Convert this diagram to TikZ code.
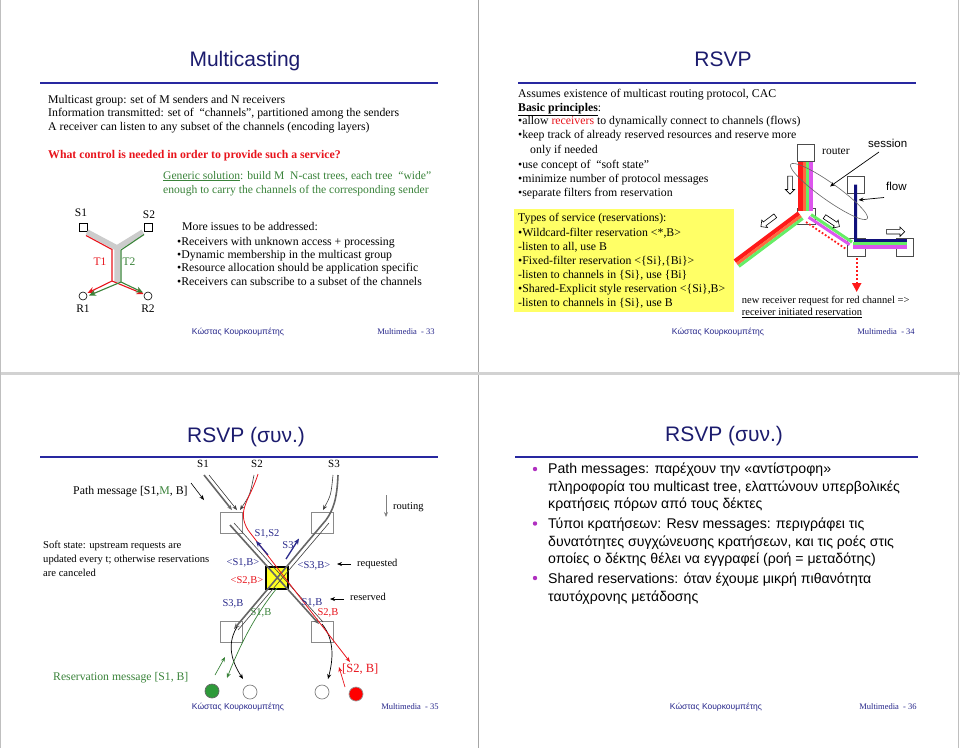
\documentclass[tikz,border=0pt]{standalone}
\usepackage{fontspec}
\setmainfont{Liberation Serif}
\newfontfamily\arial{Liberation Sans}
\usetikzlibrary{arrows.meta,shapes.arrows}
\definecolor{titlenavy}{HTML}{1C1C6E}
\definecolor{rulecol}{HTML}{2828A0}
\definecolor{rd}{HTML}{E8141C}
\definecolor{gr}{HTML}{3A833A}
\definecolor{foot}{HTML}{25258A}
\definecolor{lbl}{HTML}{2B2B8C}
\definecolor{ylw}{HTML}{FFFF66}
\definecolor{ylwbox}{HTML}{FFFF22}
\definecolor{mag}{HTML}{B030C0}
\definecolor{sred}{HTML}{FF1A1A}
\definecolor{sorange}{HTML}{FF6A40}
\definecolor{sgreen}{HTML}{66EE66}
\definecolor{smag}{HTML}{DD55EE}
\definecolor{snavy}{HTML}{10107A}
\definecolor{boxgrey}{HTML}{8A8A8A}
\definecolor{cgreen}{HTML}{2E9A3A}
\tikzset{
  title/.style={anchor=base, inner sep=0pt, text=titlenavy, font=\arial\fontsize{21}{24}\selectfont},
  rulestyle/.style={draw=rulecol, line width=2.5},
  txt/.style={anchor=base west, inner sep=0pt, font=\fontsize{11.8}{13}\selectfont},
  smalltxt/.style={anchor=base west, inner sep=0pt, font=\fontsize{10.5}{12}\selectfont},
  lab/.style={anchor=base, inner sep=0pt, font=\fontsize{10.5}{12}\selectfont},
  grk/.style={anchor=base west, inner sep=0pt, font=\arial\fontsize{14.1}{16}\selectfont},
  footname/.style={anchor=base, inner sep=0pt, text=foot, font=\arial\fontsize{8.5}{10}\selectfont},
  footnum/.style={anchor=base, inner sep=0pt, text=foot, font=\fontsize{8.5}{10}\selectfont},
  sq/.style={draw, fill=white, minimum size=8, inner sep=0pt, line width=0.6},
  circ/.style={circle, draw, fill=white, minimum size=8, inner sep=0pt, line width=0.6},
  rbox/.style={draw=boxgrey, minimum width=22, minimum height=21, inner sep=0pt, line width=0.8},
  rcirc/.style={circle, draw=gray, minimum size=14, inner sep=0pt, line width=0.7},
  hollow/.style={single arrow, draw, fill=white, inner sep=2pt, minimum height=18, single arrow head extend=2.4pt, line width=0.6},
  tip/.style={-{Stealth[length=5,width=4]}},
  greyline/.style={draw=gray!80!black, line width=1.6},
  darkline/.style={draw=black!75, line width=0.6},
}
\begin{document}
\begin{tikzpicture}[x=1pt,y=-1pt]
\useasboundingbox (0,0) rectangle (960,748);
\fill[white] (0,0) rectangle (960,748);
% slide frames
\draw[gray!70, line width=0.8] (478,0) -- (478,748);
\draw[gray!35, line width=3] (0,373) -- (960,373);
\draw[gray!50, line width=0.6] (0.5,0) -- (0.5,748);
\draw[gray!50, line width=0.6] (958.5,0) -- (958.5,748);

%%%%%%%%%%%%%%%% Slide 1
\node[title] (ti1) at (245,66) {Multicasting};
\draw[rulestyle] (40,83) -- (438,83);
\node[txt] (a1) at (48,103) {Multicast group: set of M senders and N receivers};
\node[txt] (a2) at (48,116.5) {Information transmitted: set of \ “channels”, partitioned among the senders};
\node[txt] (a3) at (48,130) {A receiver can listen to any subset of the channels (encoding layers)};
\node[txt, text=rd, font=\bfseries\fontsize{11.8}{13}\selectfont] (a4) at (48,158.5) {What control is needed in order to provide such a service?};
\node[txt, text=gr, font=\fontsize{11.6}{13}\selectfont] (a5) at (163,179) {\underline{Generic solution}: build M \ N-cast trees, each tree \ “wide”};
\node[txt, text=gr, font=\fontsize{11.6}{13}\selectfont] (a6) at (163,193.5) {enough to carry the channels of the corresponding sender};

\node[txt] (b1) at (182,230.6) {More issues to be addressed:};
\node[txt] (b2) at (177,245) {•Receivers with unknown access + processing};
\node[txt] (b3) at (177,258.3) {•Dynamic membership in the multicast group};
\node[txt] (b4) at (177,271.6) {•Resource allocation should be application specific};
\node[txt] (b5) at (177,285.6) {•Receivers can subscribe to a subset of the channels};

% tree diagram
\node[lab, font=\fontsize{11.5}{13}\selectfont] (ls1) at (81,216) {S1};
\node[lab, font=\fontsize{11.5}{13}\selectfont] (ls2) at (149,218) {S2};
\node[sq] (s1b) at (83,227) {};
\node[sq] (s2b) at (148,227) {};
\node[circ] (r1) at (83,296) {};
\node[circ] (r2) at (148,296) {};
\node[lab, font=\fontsize{11.5}{13}\selectfont] (lr1) at (83,312) {R1};
\node[lab, font=\fontsize{11.5}{13}\selectfont] (lr2) at (148,312) {R2};
\coordinate (yj) at (117,248);
\coordinate (yb) at (117,282);
\draw[gray!40, line width=5.5] (87,232) -- (yj) -- (yb);
\draw[gray!40, line width=5.5] (143,232) -- (yj);
\draw[rd, line width=1.1, -{Stealth[length=7,width=6]}] (86,235.5) -- (112,249.5) -- (112,281) -- (87.5,293);
\draw[rd, line width=1.1, -{Stealth[length=7,width=6]}] (112,281) -- (143.5,294);
\draw[gr, line width=1.1, -{Stealth[length=7,width=6]}] (144,234.5) -- (121,250) -- (121,282) -- (143,292.5);
\draw[gr, line width=1.1, -{Stealth[length=7,width=6]}] (121,282) -- (89,295.5);
\node[lab, text=rd, font=\fontsize{11.5}{13}\selectfont] (lt1) at (100,265.5) {T1};
\node[lab, text=gr, font=\fontsize{11.5}{13}\selectfont] (lt2) at (129,265.5) {T2};

\node[footname] (f1) at (238,334.5) {Κώστας Κουρκουμπέτης};
\node[footnum] (g1) at (406,334.5) {Multimedia \ - 33};

%%%%%%%%%%%%%%%% Slide 2
\node[title] (ti2) at (723,66) {RSVP};
\draw[rulestyle] (518,83) -- (916,83);
\node[txt] (c1) at (518,97.6) {Assumes existence of multicast routing protocol, CAC};
\node[txt] (c2) at (518,111.3) {\textbf{\underline{Basic principles}}:};
\node[txt] (c3) at (518,124.8) {•allow \textcolor{rd}{receivers} to dynamically connect to channels (flows)};
\node[txt] (c4) at (518,138.8) {•keep track of already reserved resources and reserve more};
\node[txt] (c5) at (530,153.3) {only if needed};
\node[txt] (c6) at (518,168) {•use concept of \ “soft state”};
\node[txt] (c7) at (518,182) {•minimize number of protocol messages};
\node[txt] (c8) at (518,196.5) {•separate filters from reservation};

\node[fill=ylw, minimum width=220, minimum height=103.5, inner sep=0pt, anchor=north west] (ybox) at (513.3,208.3) {};
\node[txt] (d1) at (518,221.6) {Types of service (reservations):};
\node[txt] (d2) at (518,236) {•Wildcard-filter reservation <*,B>};
\node[txt] (d3) at (518,250) {-listen to all, use B};
\node[txt] (d4) at (518,264) {•Fixed-filter reservation <\{Si\},\{Bi\}>};
\node[txt] (d5) at (518,278.3) {-listen to channels in \{Si\}, use \{Bi\}};
\node[txt] (d6) at (518,292.6) {•Shared-Explicit style reservation <\{Si\},B>};
\node[txt] (d7) at (518,306) {-listen to channels in \{Si\}, use B};

% RSVP figure
\node[draw=black!70, minimum width=18, minimum height=16, inner sep=0pt, line width=0.6] (jbox) at (806,216.5) {};
\fill[sred] (797.5,161) rectangle (802.5,211);
\fill[sorange] (802.5,161) rectangle (805.5,211);
\fill[sgreen] (805.5,161) rectangle (808.5,211);
\fill[smag] (808.5,161) rectangle (812.5,211);
\node[draw=black!70, fill=white, minimum width=17, minimum height=17, inner sep=0pt, line width=0.6] (router) at (805.5,152.5) {};
\node[draw=black!70, fill=white, minimum width=17, minimum height=17, inner sep=0pt, line width=0.6] (fbox) at (855.5,184.5) {};
\node[draw=black!70, fill=white, minimum width=18, minimum height=18, inner sep=0pt, line width=0.6] (lrbox) at (856,247.5) {};
\node[draw=black!70, fill=white, minimum width=17, minimum height=18, inner sep=0pt, line width=0.6] (frbox) at (905,247.5) {};
% left bundle
\draw[sred, line width=4.2] (798.9,213.2) -- (734.9,261.2);
\draw[sorange, line width=3] (801,216) -- (737,264);
\draw[sgreen, line width=3] (802.8,218.4) -- (738.8,266.4);
% right bundle
\draw[sgreen, line width=3] (811,214.6) -- (852,242);
\draw[smag, line width=3] (808.6,217.2) -- (849.6,244.6);
\draw[sred, line width=1.8, dotted] (806,222) -- (846,249);
% horizontal bundle + flow
\draw[snavy, line width=3] (fbox.center) -- (855.7,242);
\draw[snavy, line width=3] (854.2,240.8) -- (906.7,240.8);
\draw[sgreen, line width=3] (853,243.8) -- (906.7,243.8);
\draw[smag, line width=3.2] (853,246.9) -- (906.7,246.9);
\draw[sred, line width=2, dotted, -{Triangle[length=9,width=9]}] (856.7,258) -- (856.7,292);
% session ellipse
\draw[gray!80!black, line width=0.6, rotate around={-35.4:(829,191.5)}] (829,191.5) ellipse (47 and 8.5);
\node[hollow, rotate=-90] (ha1) at (790,184) {};
\node[hollow, rotate=217] (ha2) at (769,220.5) {};
\node[hollow, rotate=-33.7] (ha3) at (831,221) {};
\node[hollow] (ha4) at (894.5,231.7) {};
\node[anchor=base west, inner sep=0pt, font=\fontsize{11.5}{13}\selectfont] (lrouter) at (822,154.5) {router};
\node[anchor=base west, inner sep=0pt, font=\arial\fontsize{11.5}{13}\selectfont] (lsession) at (868,147.5) {session};
\node[anchor=base west, inner sep=0pt, font=\arial\fontsize{11.5}{13}\selectfont] (lflow) at (886,190.5) {flow};
\draw[black, line width=0.7, tip] (879,152) -- (830,186.5);
\draw[black, line width=0.7, tip] (884,197.5) -- (858.5,200);
\node[smalltxt] (e1) at (741.7,303) {new receiver request for red channel =>};
\node[smalltxt] (e2) at (741.7,315.5) {\underline{receiver initiated reservation}};

\node[footname] (f2) at (718,334.5) {Κώστας Κουρκουμπέτης};
\node[footnum] (g2) at (886,334.5) {Multimedia \ - 34};

%%%%%%%%%%%%%%%% Slide 3
\node[title] (ti3) at (246,442) {RSVP (συν.)};
\draw[rulestyle] (40,457) -- (438,457);
\node[lab, font=\fontsize{11}{12}\selectfont] (p1) at (203,467) {S1};
\node[lab, font=\fontsize{11}{12}\selectfont] (p2) at (257,467) {S2};
\node[lab, font=\fontsize{11}{12}\selectfont] (p3) at (334,467) {S3};
\node[anchor=base west, inner sep=0pt, font=\fontsize{11.8}{13}\selectfont] (pm) at (73,494) {Path message [S1,\textcolor{gr}{M}, B]};
\draw[black, line width=0.6, tip] (191,483) -- (204,500);
\node[anchor=base west, inner sep=0pt, font=\fontsize{10.6}{11}\selectfont] (ss1) at (43,548.5) {Soft state: upstream requests are};
\node[anchor=base west, inner sep=0pt, font=\fontsize{10.6}{11}\selectfont] (ss2) at (43,562.5) {updated every t; otherwise reservations};
\node[anchor=base west, inner sep=0pt, font=\fontsize{10.6}{11}\selectfont] (ss3) at (43,576.5) {are canceled};

\node[rbox] (ul) at (231,522.5) {};
\node[rbox] (ur) at (322,522.5) {};
\node[rbox] (ll) at (231,631.5) {};
\node[rbox] (lr) at (322,631.5) {};
\node[draw=black, fill=ylwbox, minimum width=22, minimum height=22, inner sep=0pt, line width=1.5] (ctr) at (277,578) {};

% S1 path
\draw[greyline, tip] (204,475) -- (232,510);
\draw[darkline, tip] (209,475) -- (237,510);
\draw[greyline, -{Stealth[length=6,width=5]}] (230,525) -- (319,624);
\draw[darkline] (234,523) -- (323,622);
\draw[black, line width=0.7, tip] (322,624) .. controls (335,640) and (333,660) .. (328,679);
% S3 path
\draw[darkline, tip] (333,475) .. controls (331,495) .. (323,510);
\draw[greyline] (338,475) .. controls (337,500) and (333,510) .. (326,520);
\draw[greyline, -{Stealth[length=6,width=5]}] (326,520) -- (234,629);
\draw[darkline] (329,523) -- (238,630);
\draw[black, line width=0.7, tip] (237,627) .. controls (224,648) and (236,668) .. (243,679);
% S2 path
\draw[darkline, tip] (254,475) .. controls (250,495) .. (240,510);
\draw[rd, line width=0.8, tip] (258,474) .. controls (250,500) and (236,510) .. (248,530) -- (350,662);
% blue arrows
\draw[lbl, line width=1.3, -{Stealth[length=6,width=5]}] (268,555) -- (256,541);
\draw[lbl, line width=1.3, -{Stealth[length=6,width=5]}] (286,559) -- (299,538.5);
% green path
\draw[gr, line width=0.7, tip] (277,588) .. controls (255,615) and (240,645) .. (227,678);
\draw[gr, line width=0.7, tip] (215,675) -- (225,657);
\draw[rd, line width=0.7, tip] (345,687) -- (339,667);
% receivers
\node[rcirc, fill=cgreen, draw=black!60] (rg) at (212,691) {};
\node[rcirc, fill=white] (rw1) at (250,692) {};
\node[rcirc, fill=white] (rw2) at (322,692) {};
\node[rcirc, fill=red, draw=black!40] (rr) at (356,694) {};
% labels
\node[lab, text=lbl] (q1) at (267,536.5) {S1,S2};
\node[lab, text=lbl] (q2) at (288,548.5) {S3};
\node[lab, text=lbl] (q3) at (243,565.5) {<S1,B>};
\node[lab, text=lbl] (q4) at (314,568.5) {<S3,B>};
\node[lab, text=rd] (q5) at (247,583.5) {<S2,B>};
\node[lab, text=lbl] (q6) at (233,606.5) {S3,B};
\node[lab, text=gr] (q7) at (261,615.5) {S1,B};
\node[lab, text=lbl] (q8) at (312,605.5) {S1,B};
\node[lab, text=rd] (q9) at (328,615.5) {S2,B};
\node[anchor=base west, inner sep=0pt, font=\fontsize{10.5}{12}\selectfont] (req) at (357,566) {requested};
\draw[black, line width=0.6, tip] (351,564) -- (337,564);
\node[anchor=base west, inner sep=0pt, font=\fontsize{10.5}{12}\selectfont] (res) at (350,600) {reserved};
\draw[black, line width=0.6, tip] (344,599) -- (330,599);
\node[anchor=base west, inner sep=0pt, font=\fontsize{10.5}{12}\selectfont] (rout) at (393,509) {routing};
\draw[gray, line width=1, tip] (386,495) -- (386,517);
\node[anchor=base west, inner sep=0pt, text=rd, font=\fontsize{12.5}{14}\selectfont] (s2b2) at (342,672) {[S2, B]};
\node[anchor=base west, inner sep=0pt, text=gr, font=\fontsize{11.7}{13}\selectfont] (rm) at (53,680.5) {Reservation message [S1, B]};

\node[footname] (f3) at (238,709.5) {Κώστας Κουρκουμπέτης};
\node[footnum] (g3) at (410,709.5) {Multimedia \ - 35};

%%%%%%%%%%%%%%%% Slide 4
\node[title] (ti4) at (724,441.5) {RSVP (συν.)};
\draw[rulestyle] (515,457) -- (918,457);
\fill[mag] (535,469) circle (2.2);
\fill[mag] (535,523.5) circle (2.2);
\fill[mag] (535,578) circle (2.2);
\node[grk] (h1) at (548,473.5) {Path messages: παρέχουν την «αντίστροφη»};
\node[grk] (h2) at (548,491.5) {πληροφορία του multicast tree, ελαττώνουν υπερβολικές};
\node[grk] (h3) at (548,508.5) {κρατήσεις πόρων από τους δέκτες};
\node[grk] (h4) at (548,528) {Τύποι κρατήσεων: Resv messages: περιγράφει τις};
\node[grk] (h5) at (548,546) {δυνατότητες συγχώνευσης κρατήσεων, και τις ροές στις};
\node[grk] (h6) at (548,563) {οποίες ο δέκτης θέλει να εγγραφεί (ροή = μεταδότης)};
\node[grk] (h7) at (548,583) {Shared reservations: όταν έχουμε μικρή πιθανότητα};
\node[grk] (h8) at (548,601) {ταυτόχρονης μετάδοσης};

\node[footname] (f4) at (716,709) {Κώστας Κουρκουμπέτης};
\node[footnum] (g4) at (888,709) {Multimedia \ - 36};
\end{tikzpicture}
\end{document}
